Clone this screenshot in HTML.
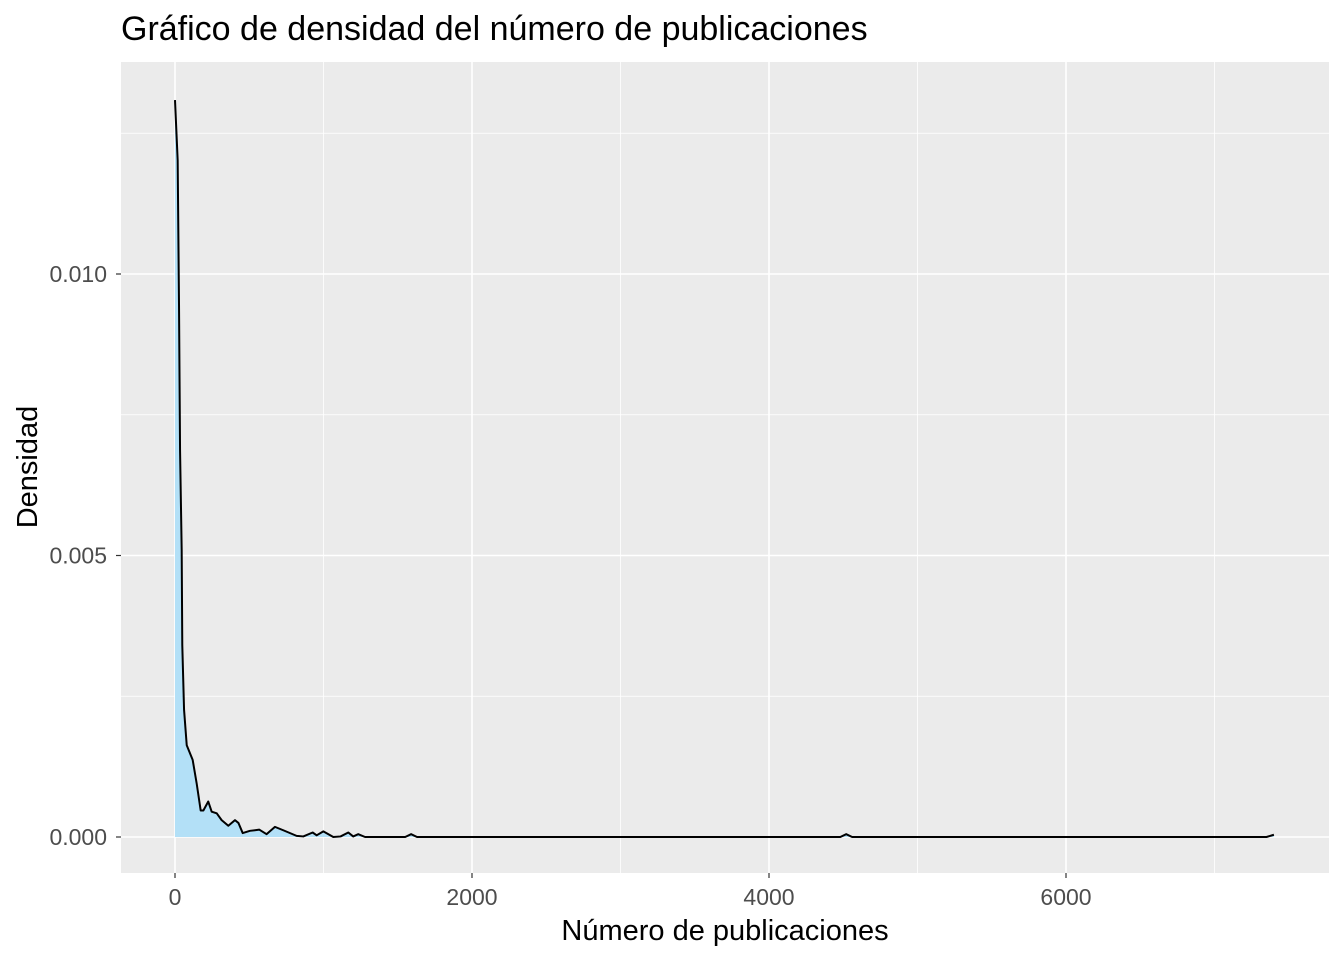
<!DOCTYPE html>
<html><head><meta charset="utf-8"><style>
body{margin:0;background:#fff;}
svg text{font-family:"Liberation Sans",Arial,sans-serif;}
</style></head><body>
<svg id="chart" width="1344" height="960" xmlns="http://www.w3.org/2000/svg">
<rect width="1344" height="960" fill="#fff"/>
<text x="121" y="40" font-size="34" fill="#000">Gráfico de densidad del número de publicaciones</text>
<rect x="121" y="62" width="1208" height="811" fill="#ebebeb"/>
<g id="grid"></g>
<g id="series"></g>
<g id="axes"></g>
<text x="725" y="940" font-size="29" text-anchor="middle" fill="#000">Número de publicaciones</text>
<text transform="translate(37,467) rotate(-90)" font-size="29" text-anchor="middle" fill="#000">Densidad</text>
</svg>
<script>
const xs = [0,18,27,34,45,49,61,79,119,146,173,191,224,247,281,314,359,404,427,456,505,568,617,673,729,819,864,927,954,999,1066,1115,1167,1200,1234,1280,1550,1590,1630,4480,4520,4560,7350,7400];
const ys = [0.01309,0.01202,0.00945,0.00687,0.0051,0.00341,0.00226,0.00163,0.00137,0.00095,0.00047,0.00047,0.00063,0.00045,0.00042,0.0003,0.0002,0.0003,0.00025,0.00007,0.00011,0.00013,0.00005,0.00018,0.00012,0.00002,0.00001,0.00008,0.00003,0.0001,0,0.00001,0.00008,0.00001,0.00005,0,0,0.00005,0,0,0.00005,0,0,0.00004];
const xMajor = [0,2000,4000,6000];
const xMinor = [1000,3000,5000,7000];
const yMajor = [0,0.005,0.010];
const yMinor = [0.0025,0.0075,0.0125];
const yLabels = ["0.000","0.005","0.010"];
const X = v => 175 + v*0.1485;
const Y = v => 837 - v*56300;
const NS = "http://www.w3.org/2000/svg";
function mk(tag, attrs, parent){const e=document.createElementNS(NS,tag);for(const k in attrs)e.setAttribute(k,attrs[k]);parent.appendChild(e);return e;}
const grid=document.getElementById('grid'), series=document.getElementById('series'), axes=document.getElementById('axes');
xMinor.forEach(v=>{const l=mk('line',{x1:X(v),x2:X(v),y1:62,y2:873,stroke:'#fff','stroke-width':0.8},grid);

});
yMinor.forEach(v=>{const l=mk('line',{x1:121,x2:1329,y1:Y(v),y2:Y(v),stroke:'#fff','stroke-width':0.8},grid);

});
xMajor.forEach(v=>{const l=mk('line',{x1:X(v),x2:X(v),y1:62,y2:873,stroke:'#fff','stroke-width':1.6},grid);


const t=mk('line',{x1:X(v),x2:X(v),y1:873,y2:878,stroke:'#333','stroke-width':1.2},axes);


const tx=mk('text',{x:X(v),y:905,'font-size':23,'text-anchor':'middle',fill:'#4d4d4d'},axes);tx.textContent=v;

});
yMajor.forEach((v,i)=>{const l=mk('line',{x1:121,x2:1329,y1:Y(v),y2:Y(v),stroke:'#fff','stroke-width':1.6},grid);


const t=mk('line',{x1:116,x2:121,y1:Y(v),y2:Y(v),stroke:'#333','stroke-width':1.2},axes);


const tx=mk('text',{x:107,y:Y(v)+8,'font-size':23,'text-anchor':'end',fill:'#4d4d4d'},axes);tx.textContent=yLabels[i];

});
let d='M'+X(xs[0])+','+Y(0);
xs.forEach((x,i)=>{d+=' L'+X(x).toFixed(2)+','+Y(ys[i]).toFixed(2);});
const area=mk('path',{d:d+' L'+X(xs[xs.length-1])+','+Y(0)+' Z',fill:'#b3e0f7',stroke:'none'},series);


let ld='';xs.forEach((x,i)=>{ld+=(i?' L':'M')+X(x).toFixed(2)+','+Y(ys[i]).toFixed(2);});
const line=mk('path',{d:ld,fill:'none',stroke:'#000','stroke-width':2,'stroke-linejoin':'round'},series);


</script>
</body></html>
